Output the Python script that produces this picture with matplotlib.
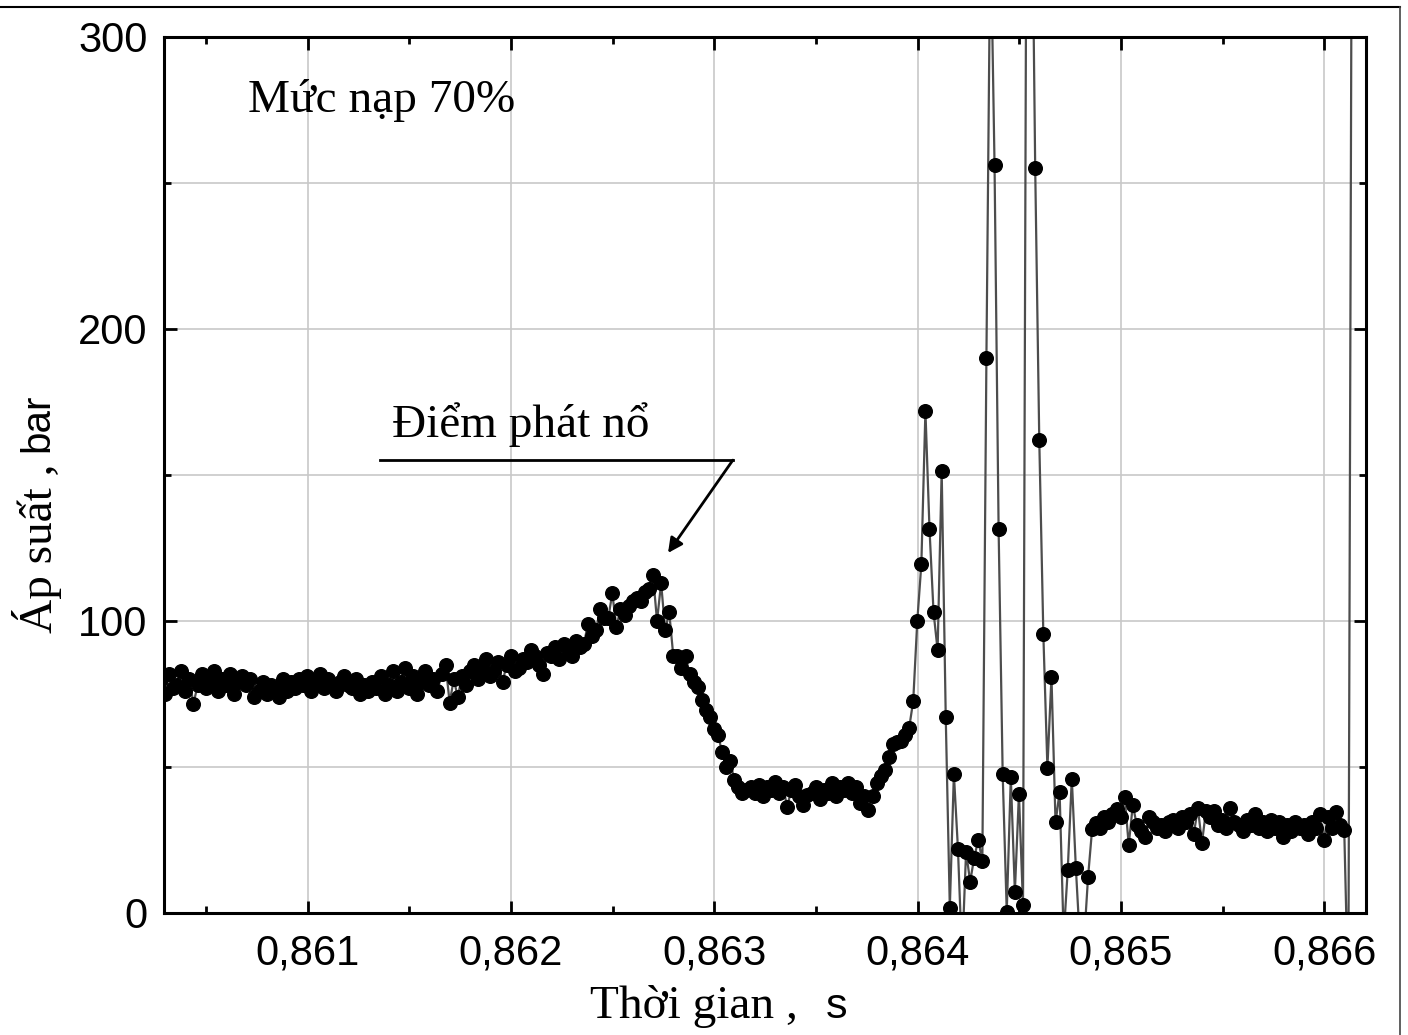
import numpy as np
import matplotlib.pyplot as plt
from matplotlib.ticker import MultipleLocator, FuncFormatter
from matplotlib.lines import Line2D

# sampling of the pressure record
T0 = 0.860278   # s
DT = 0.00002    # s

# pressure, bar - read sample by sample
p_plateau = [80, 75, 82, 77, 78, 83, 76, 80, 71.6, 78,
             82, 77, 79, 83, 76, 80, 78, 82, 75, 79,
             81, 78, 80, 74, 76, 79, 75, 78, 77, 74, 80, 76,
             79, 77, 80, 78, 81, 76, 79, 82, 77, 80,
             78, 76, 79, 81, 78, 77, 80, 75, 78, 76,
             79, 77, 81, 75, 78, 83, 76,
             79, 84, 77, 81, 75, 79, 83, 78, 80, 76,
             82, 85, 72, 80, 74, 81, 78,
             83, 85, 80, 84, 87, 81, 83, 86, 79, 85, 88, 83]
p_rise = [84, 87, 86, 90, 88, 85, 82, 89, 88, 91,
          87, 92, 90, 88, 93, 91, 92, 99, 95, 97,
          104, 101, 101, 109.5, 98, 104, 102, 105, 107, 108,
          107, 110, 111]
p_drop = [115.8, 100, 113, 97, 103, 88, 88, 84, 88, 82,
          79, 77.5, 73, 69.5, 67, 63, 61, 55, 50, 52,
          45.5, 43, 41, 42, 43]
p_trough = [41, 44, 40, 43, 42, 45, 41, 43, 36.4, 42,
            44, 40, 37, 40.4, 41, 43, 39, 42, 41, 44.5,
            40, 43, 42, 44.5, 41, 43, 37.7, 40, 35.3,
            40, 44.5, 47, 49, 53.4, 58, 58.5, 59, 61, 63.4]
p_burst = [72.6, 100, 119.5, 172, 131.6, 103, 90, 151.5, 67, 1.8,
           47.6, 22, -15, 21, 10.7, 19, 25, 17.8, 190, 340,
           256, 131.5, 47.6, 0.5, 46.5, 7.3, 40.8, 2.7, 420, 380,
           255, 162, 95.5, 49.8, 80.8, 31, 41.4, -8, 14.7, 46,
           15.4, -10, -10, 12.4, 28.8, 30.9, 29, 33, 31, 34, 35.6, 33]
p_tail = [39.8, 23.3, 37, 30, 28, 26, 33, 31, 29, 30,
          28, 31, 32, 29, 33, 31, 34, 27, 36, 24,
          35, 33, 35, 30, 32, 29, 36, 31, 30, 28,
          32, 30, 34, 29, 31, 28, 32, 29, 31, 26,
          30, 28, 31, 29, 30, 27, 31, 29, 34, 25,
          33, 29, 34.6, 30, 28.4, -30, 420]

p = np.array(p_plateau + p_rise + p_drop + p_trough + p_burst + p_tail)
t = T0 + DT * np.arange(len(p))

serif = ['Liberation Serif', 'DejaVu Serif']
sans = ['Liberation Sans', 'DejaVu Sans']

fig = plt.figure(figsize=(14.08, 10.35), dpi=100)
ax = fig.add_axes([164/1408, 1-913/1035, (1366-164)/1408, (913-37)/1035])

ax.plot(t, p, '-', color='#4d4d4d', lw=1.6, zorder=2)
ax.plot(t, p, 'o', color='black', ms=9.8, zorder=3)

ax.set_xlim(0.860293, 0.866205)
ax.set_ylim(0, 300)
ax.xaxis.set_major_locator(MultipleLocator(0.001))
ax.xaxis.set_minor_locator(MultipleLocator(0.0005))
ax.yaxis.set_major_locator(MultipleLocator(100))
ax.yaxis.set_minor_locator(MultipleLocator(50))
ax.xaxis.set_major_formatter(FuncFormatter(lambda v, pos: f'{v:.3f}'.replace('.', ',')))
ax.yaxis.set_major_formatter(FuncFormatter(lambda v, pos: f'{v:.0f}'))

ax.set_axisbelow(True)
ax.grid(True, axis='x', which='major', color='#c8c8c8', lw=1.2)
ax.grid(True, axis='y', which='both', color='#c8c8c8', lw=1.2)

ax.tick_params(which='both', direction='in', top=True, right=True, width=2)
ax.tick_params(which='major', length=9)
ax.tick_params(which='minor', length=5)
ax.tick_params(axis='x', which='major', pad=15)
ax.tick_params(axis='y', which='major', pad=12)
for lab in ax.get_xticklabels() + ax.get_yticklabels():
    lab.set_family(sans)
    lab.set_fontsize(30)
for s in ax.spines.values():
    s.set_linewidth(2.2)

ax.text(0.860706, 274.3, 'Mức nạp 70%', family=serif, fontsize=34,
        ha='left', va='baseline')

# marker for the detonation point
ax.text(0.861414, 163, 'Điểm phát nổ', family=serif, fontsize=34,
        ha='left', va='baseline')
ax.plot([0.861355, 0.863091], [155.1, 155.1], color='black', lw=2, zorder=4)
ax.annotate('', xy=(0.862772, 123.3), xytext=(0.863091, 155.1),
            arrowprops=dict(arrowstyle='-|>', color='black', lw=2,
                            mutation_scale=22, shrinkA=0, shrinkB=0))

# axis titles: serif words with sans unit
fig.text(590/1408, 1-1018/1035, 'Thời gian ,', family=serif, fontsize=34,
         ha='left', va='baseline')
fig.text(826/1408, 1-1018/1035, 's', family=sans, fontsize=31,
         ha='left', va='baseline')
fig.text(37/1408, 1-633/1035, 'Áp suất ,', family=serif, fontsize=34,
         rotation=90, ha='center', va='bottom')
fig.text(37/1408, 1-452/1035, 'bar', family=sans, fontsize=29,
         rotation=90, ha='center', va='bottom')

# frame lines along the top and right edges
fig.add_artist(Line2D([0, 1400/1408], [1-7/1035, 1-7/1035],
                      transform=fig.transFigure, color='black', lw=1.5))
fig.add_artist(Line2D([1400/1408, 1400/1408], [0, 1-7/1035],
                      transform=fig.transFigure, color='#444444', lw=1.2))

fig.savefig('out.png', dpi=100)
